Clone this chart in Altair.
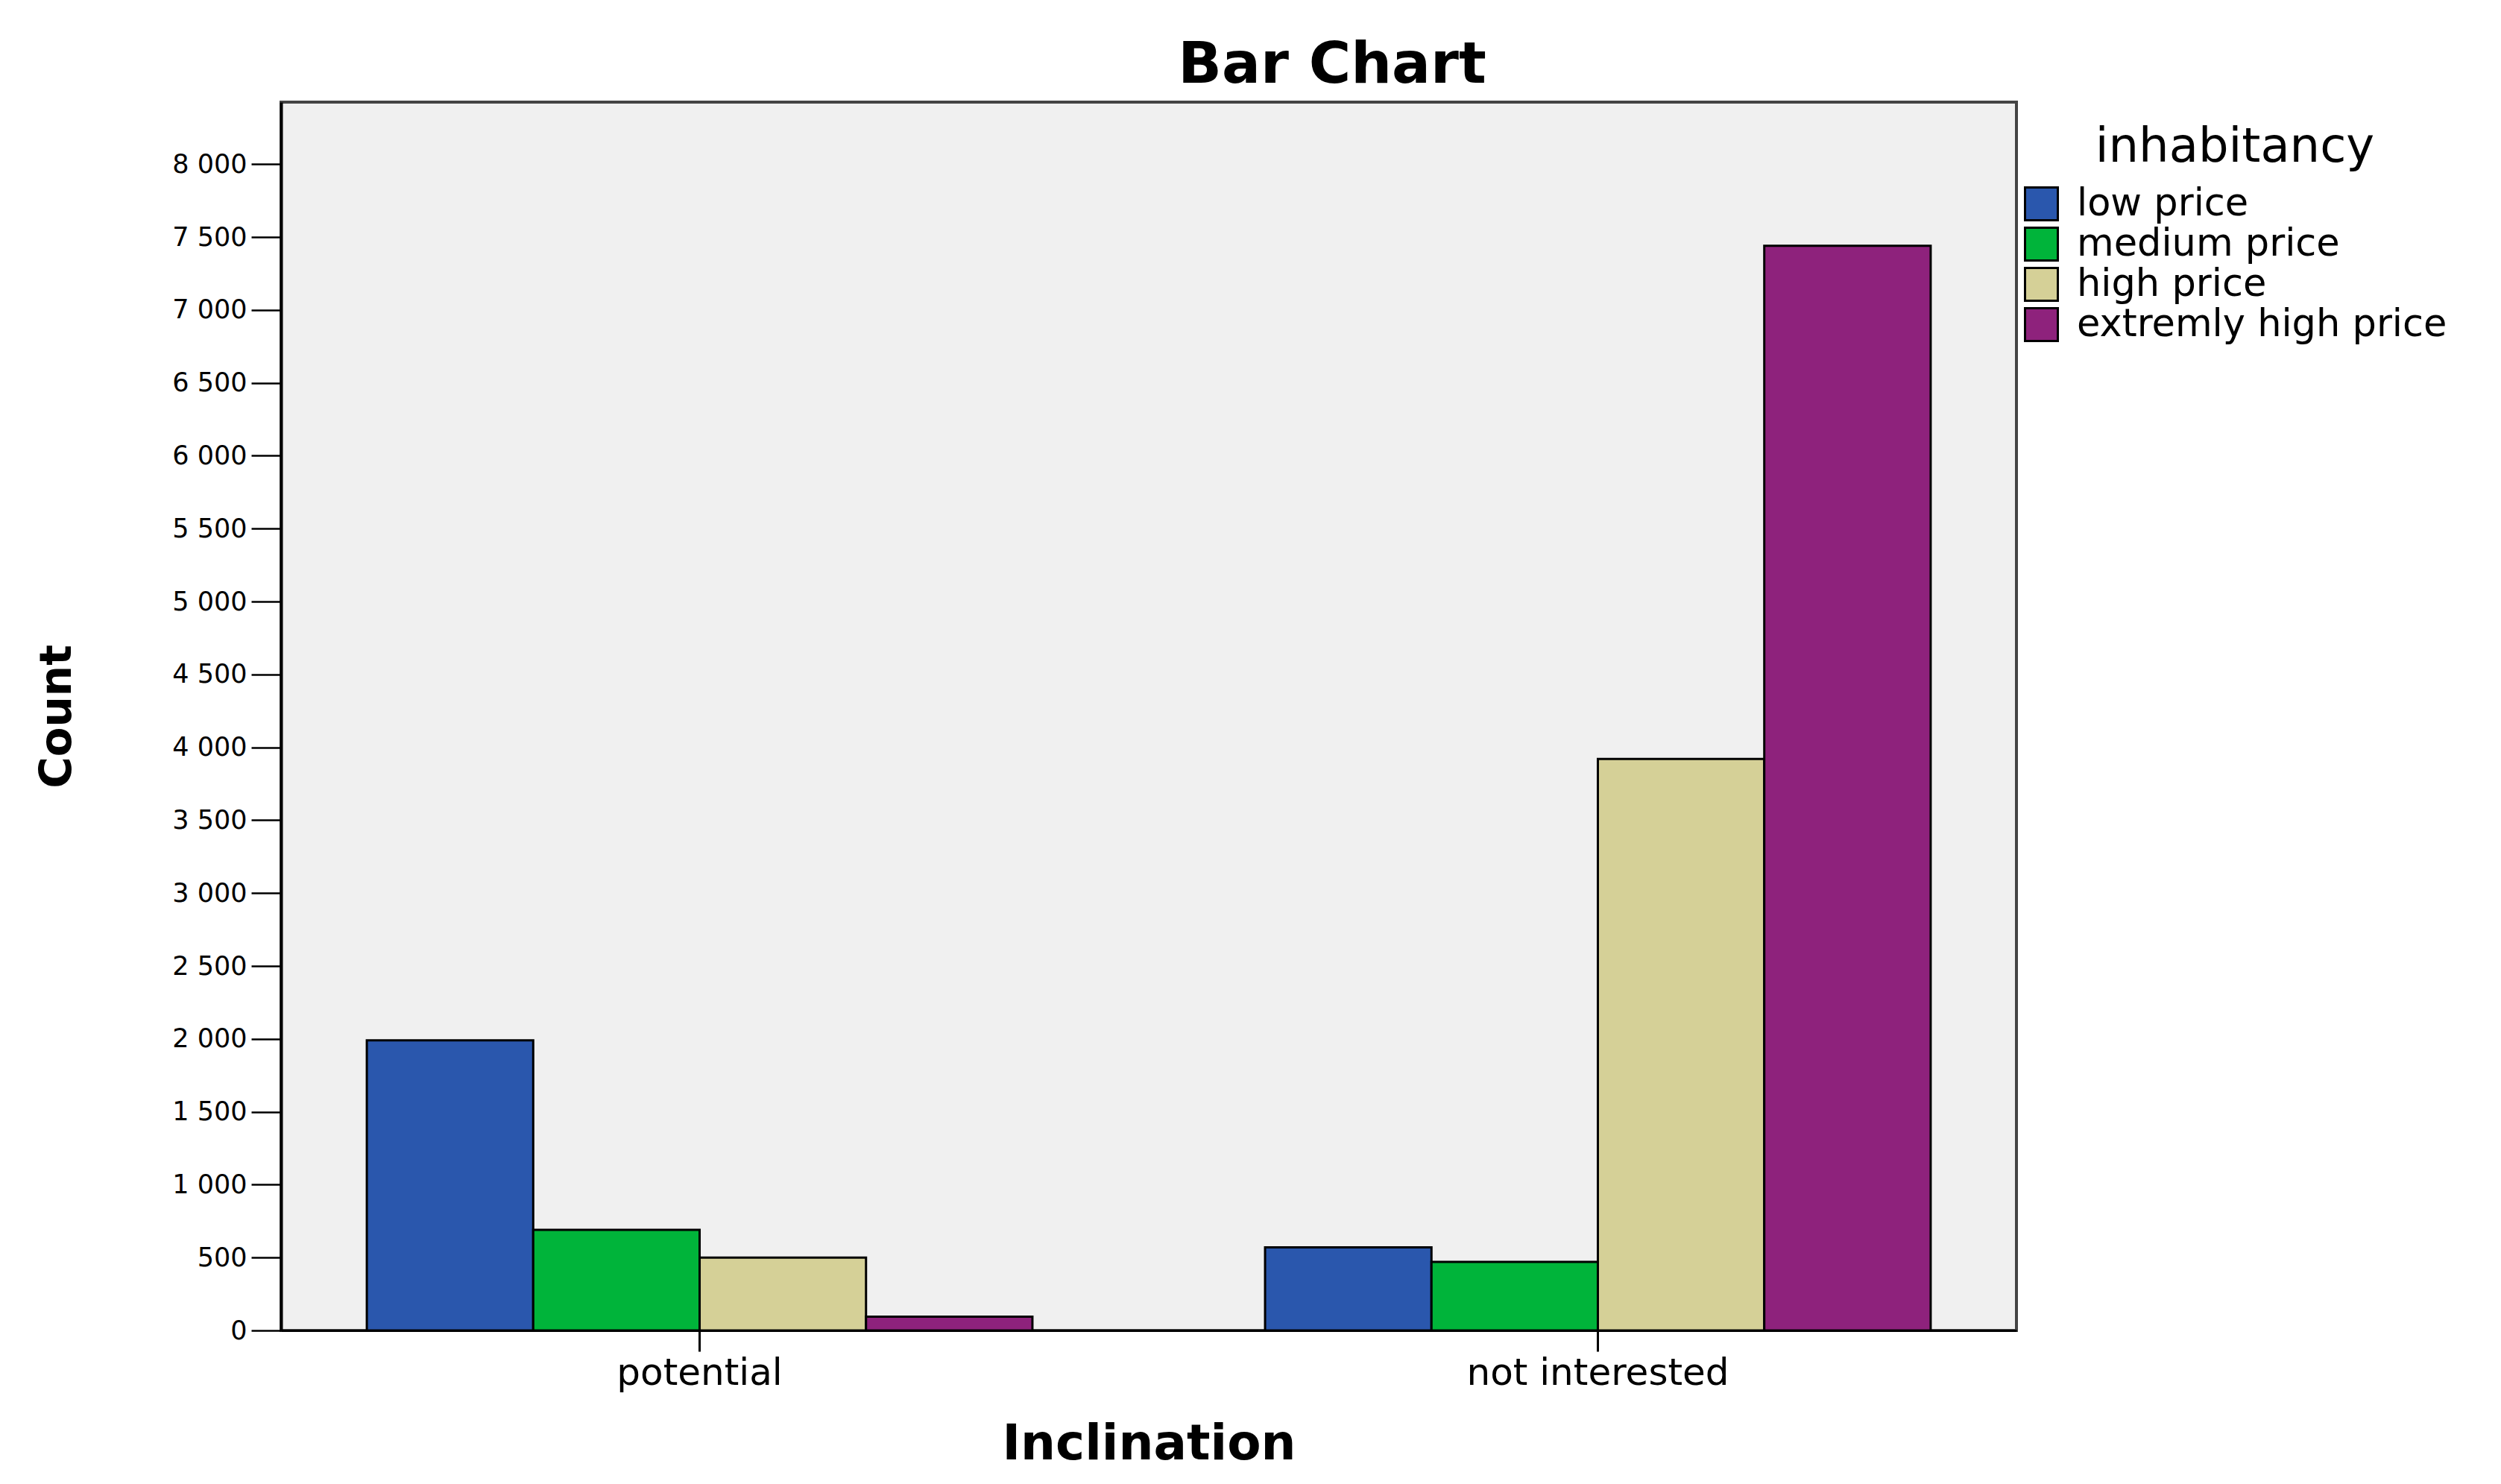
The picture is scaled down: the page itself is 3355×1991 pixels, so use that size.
import altair as alt
import pandas as pd

categories = ["potential", "not interested"]
series = ["low price", "medium price", "high price", "extremly high price"]
potential_values = [1990, 690, 500, 95]
not_interested_values = [570, 470, 3920, 7440]
colors = ["#2a57ad", "#00b43a", "#d5d097", "#8e227c"]
y_ticks = list(range(0, 8001, 500))

rows = []
for cat, vals in zip(categories, [potential_values, not_interested_values]):
    for s, v in zip(series, vals):
        rows.append({"Inclination": cat, "inhabitancy": s, "Count": v})
df = pd.DataFrame(rows)

FONT = "DejaVu Sans"

chart = alt.Chart(df).mark_bar(stroke="black", strokeWidth=3, opacity=1).encode(
    x=alt.X(
        "Inclination:N",
        sort=categories,
        scale=alt.Scale(paddingInner=0.259, paddingOuter=0.0955),
        axis=alt.Axis(
            title="Inclination",
            titleFont=FONT, titleFontSize=66, titleFontWeight="bold", titleColor="black",
            titleBaseline="alphabetic", titleY=172,
            labelFont=FONT, labelFontSize=50, labelColor="black", labelAngle=0,
            labelLimit=0,
            labelPadding=4, tickSize=28, tickWidth=3, tickColor="black",
            domainColor="black", domainWidth=3, grid=False,
        ),
    ),
    xOffset=alt.XOffset(
        "inhabitancy:N", sort=series,
        scale=alt.Scale(paddingInner=0, paddingOuter=0),
    ),
    y=alt.Y(
        "Count:Q",
        scale=alt.Scale(domain=[0, 8426], nice=False, zero=True),
        axis=alt.Axis(
            title="Count",
            values=y_ticks,
            labelExpr="replace(format(datum.value, ','), ',', ' ')",
            titleFont=FONT, titleFontSize=58, titleFontWeight="bold", titleColor="black",
            titleBaseline="middle", titleX=-300, titleY=824, titleAngle=-90,
            labelFont=FONT, labelFontSize=35, labelColor="black", labelPadding=6,
            labelLimit=0,
            tickSize=40, tickWidth=2.5, tickColor="black",
            domainColor="black", domainWidth=4, grid=False,
        ),
    ),
    color=alt.Color(
        "inhabitancy:N",
        sort=series,
        scale=alt.Scale(domain=series, range=colors),
        legend=alt.Legend(
            title="inhabitancy",
            orient="none", legendX=2336, legendY=29,
            titleFont=FONT, titleFontSize=64, titleFontWeight="normal", titleColor="black",
            titleAnchor="middle", titleAlign="center", titlePadding=18, titleLimit=0,
            labelFont=FONT, labelFontSize=51, labelColor="black", labelOffset=22,
            labelLimit=0,
            symbolType="square", symbolSize=1936, symbolStrokeColor="black",
            symbolStrokeWidth=3, symbolOpacity=1, rowPadding=-6, padding=0,
        ),
    ),
).properties(
    width=2328,
    height=1648,
    title=alt.Title(
        "Bar Chart", font=FONT, fontSize=77, fontWeight="bold", color="black",
        anchor="middle", frame="group", dx=246, offset=10, limit=0,
    ),
    autosize=alt.AutoSizeParams(type="none"),
    padding={"left": 369, "top": 129, "right": 640, "bottom": 200},
).configure(
    background="white"
).configure_view(
    fill="#f0f0f0", stroke="#444444", strokeWidth=4
)

chart.save("out.html", embed_options={"renderer": "svg", "actions": False})
